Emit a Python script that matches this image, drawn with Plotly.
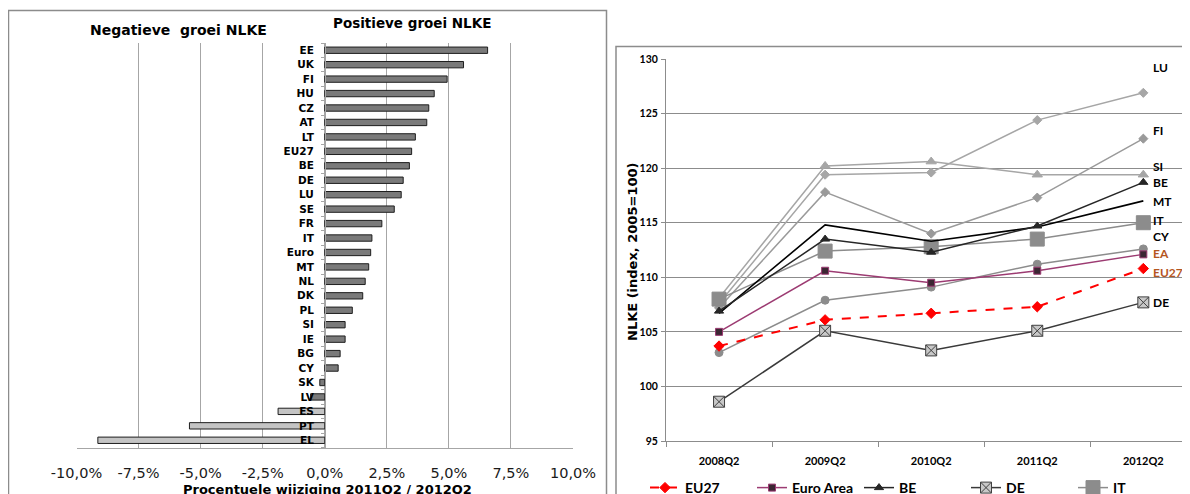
import plotly.graph_objects as go

# ---------------- data: left panel ----------------
countries = ["EE", "UK", "FI", "HU", "CZ", "AT", "LT", "EU27", "BE", "DE", "LU", "SE", "FR", "IT",
             "Euro", "MT", "NL", "DK", "PL", "SI", "IE", "BG", "CY", "SK", "LV", "ES", "PT", "EL"]
growth = [6.56, 5.59, 4.93, 4.41, 4.19, 4.11, 3.65, 3.50, 3.41, 3.16, 3.08, 2.80, 2.30, 1.90,
          1.85, 1.77, 1.63, 1.53, 1.11, 0.82, 0.82, 0.62, 0.54, -0.20, -0.57, -1.88, -5.45, -9.14]
light_bars = ["ES", "PT", "EL"]
x_ticks = [-10, -7.5, -5, -2.5, 0, 2.5, 5, 7.5, 10]
x_tick_labels = [f"{v:.1f}%".replace(".", ",") for v in x_ticks]

# ---------------- data: right panel ----------------
quarters = ["2008Q2", "2009Q2", "2010Q2", "2011Q2", "2012Q2"]
eu27 = [103.7, 106.1, 106.7, 107.3, 110.8]
euro_area = [105.0, 110.6, 109.5, 110.6, 112.1]
be = [106.9, 113.5, 112.3, 114.7, 118.7]
de = [98.6, 105.1, 103.3, 105.1, 107.7]
it = [108.0, 112.4, 112.8, 113.5, 115.0]
lu = [107.6, 119.4, 119.6, 124.4, 126.9]
fi = [107.2, 117.8, 114.0, 117.3, 122.7]
si = [108.1, 120.2, 120.6, 119.4, 119.4]
mt = [106.7, 114.8, 113.3, 114.6, 117.0]
cy = [103.1, 107.9, 109.1, 111.2, 112.6]

# The page body has an 8px margin: build the figure so that it fits the window exactly.
OFF = 8
W, H = 1190 - OFF, 494 - OFF
px = lambda v: (v - OFF) / W          # page x (pixels) -> paper fraction
py = lambda v: 1 - (v - OFF) / H      # page y (pixels) -> paper fraction

fig = go.Figure()

# ---------- left bar chart ----------
bar_colors = ["#c4c4c4" if c in light_bars else "#7a7a7a" for c in countries]
fig.add_trace(go.Bar(
    x=growth, y=countries, orientation="h",
    marker=dict(color=bar_colors, line=dict(color="#1e1e1e", width=1)),
    xaxis="x", yaxis="y", showlegend=False, hoverinfo="x+y"))

# ---------- right line chart ----------
BOLD = "Lato"
WIDE = "DejaVu Sans"
def line(name, vals, color, symbol=None, msize=7, mcolor=None, mline=None, dash="solid",
         width=1.5, legend=False, rank=1000):
    mode = "lines+markers" if symbol else "lines"
    fig.add_trace(go.Scatter(
        x=quarters, y=vals, name=name, mode=mode,
        line=dict(color=color, width=width, dash=dash),
        marker=dict(symbol=symbol or "circle", size=msize, color=mcolor or color,
                    line=dict(color=mline or (mcolor or color), width=1)),
        xaxis="x2", yaxis="y2", showlegend=legend, legendrank=rank))

line("LU", lu, "#a6a6a6", "diamond", 7)
line("SI", si, "#a6a6a6", "triangle-up", 9)
line("FI", fi, "#9a9a9a", "diamond", 7)
line("CY", cy, "#8c8c8c", "circle", 8)
line("IT", it, "#8c8c8c", "square", 14, legend=True, rank=5)
line("MT", mt, "#000000", None, width=1.6)
line("BE", be, "#262626", "triangle-up", 8, legend=True, rank=3)
line("Euro Area", euro_area, "#9c3b72", "square", 7, mcolor="#3b2633", mline="#9c3b72",
     legend=True, rank=2)
line("DE", de, "#3a3a3a", "square-x", 11, mcolor="#c8c8c8", mline="#404040",
     legend=True, rank=4)
line("EU27", eu27, "#ff0000", "diamond", 8, dash="dash", width=2, legend=True, rank=1)

# end labels on the right
end_labels = [("LU", lu, 25, "#000000"), ("FI", fi, 8, "#000000"), ("SI", si, 8, "#000000"),
              ("BE", be, 0, "#000000"), ("MT", mt, -1, "#000000"), ("IT", it, 2, "#000000"),
              ("CY", cy, 12, "#000000"), ("EA", euro_area, 1, "#b5561f"),
              ("EU27", eu27, -4, "#b5561f"), ("DE", de, 0, "#000000")]
annotations = []
for name, vals, ys, col in end_labels:
    annotations.append(dict(x=quarters[-1], y=vals[-1], xref="x2", yref="y2", text=name,
                            showarrow=False, xanchor="left", yanchor="middle",
                            xshift=8, yshift=ys,
                            font=dict(family=BOLD, size=12, color=col, weight="bold")))

# panel titles / axis titles
annotations += [
    dict(x=px(178), y=py(30), xref="paper", yref="paper", text="Negatieve\u00a0 groei NLKE",
         showarrow=False, xanchor="center", yanchor="middle",
         font=dict(family=WIDE, size=14, color="#000", weight="bold")),
    dict(x=px(412), y=py(23), xref="paper", yref="paper", text="Positieve groei NLKE",
         showarrow=False, xanchor="center", yanchor="middle",
         font=dict(family=WIDE, size=13.5, color="#000", weight="bold")),
    dict(x=px(327), y=py(489), xref="paper", yref="paper",
         text="Procentuele wijziging 2011Q2 / 2012Q2", showarrow=False,
         xanchor="center", yanchor="middle",
         font=dict(family=WIDE, size=13, color="#000", weight="bold")),
    dict(x=px(632), y=py(252), xref="paper", yref="paper", text="NLKE (index, 2005=100)",
         textangle=-90, showarrow=False, xanchor="center", yanchor="middle",
         font=dict(family=WIDE, size=13, color="#000", weight="bold")),
]

shapes = [
    dict(type="rect", xref="paper", yref="paper", x0=px(8.5), x1=px(606.5), y0=py(520), y1=py(10.5),
         line=dict(color="#8c8c8c", width=1.5), fillcolor="rgba(0,0,0,0)", layer="below"),
    dict(type="rect", xref="paper", yref="paper", x0=px(616), x1=px(1220), y0=py(520), y1=py(46.5),
         line=dict(color="#8c8c8c", width=1.5), fillcolor="rgba(0,0,0,0)", layer="below"),
]

fig.update_layout(
    width=W, height=H, margin=dict(l=0, r=0, t=0, b=0, autoexpand=False),
    paper_bgcolor="white", plot_bgcolor="rgba(0,0,0,0)",
    separators=",.",
    bargap=0.56,
    font=dict(family=WIDE, color="#000"),
    xaxis=dict(domain=[px(76.5), px(573)], range=[-10, 10], tickmode="array",
               tickvals=x_ticks, ticktext=x_tick_labels,
               showgrid=True, gridcolor="#a6a6a6",
               gridwidth=1, zeroline=False, showline=True, linecolor="#a6a6a6", linewidth=1,
               ticks="", ticklabelstandoff=12, automargin=False,
               tickfont=dict(family=WIDE, size=14.5, color="#1a1a1a"),
               anchor="y", fixedrange=True),
    yaxis=dict(domain=[py(447.5), py(43)], categoryorder="array", categoryarray=countries,
               tickmode="array", tickvals=countries,
               autorange="reversed", anchor="free", position=px(325),
               showline=True, linecolor="#a6a6a6", linewidth=1, showgrid=False,
               ticks="outside", tickson="boundaries", ticklen=4, tickcolor="#a6a6a6",
               ticklabelstandoff=9, automargin=False,
               tickfont=dict(family=WIDE, size=10.5, color="#000", weight="bold"),
               fixedrange=True),
    xaxis2=dict(domain=[px(666), 1], range=[-0.5, 4.44], anchor="y2", type="category",
                showline=True, linecolor="#8c8c8c", linewidth=1, showgrid=False,
                ticks="outside", tickson="boundaries", ticklen=5, tickcolor="#8c8c8c",
                ticklabelstandoff=10, automargin=False,
                tickfont=dict(family=BOLD, size=11, color="#000", weight="bold"),
                fixedrange=True),
    yaxis2=dict(domain=[py(441), py(59)], range=[95, 130], dtick=5, anchor="x2",
                showline=True, linecolor="#8c8c8c", linewidth=1, showgrid=True,
                gridcolor="#8c8c8c", gridwidth=1, zeroline=False, automargin=False,
                ticks="outside", ticklen=4, tickcolor="#8c8c8c", ticklabelstandoff=1,
                tickfont=dict(family="Liberation Sans Narrow, Lato", size=10.5, color="#000",
                              weight="bold"),
                fixedrange=True),
    legend=dict(orientation="h", x=px(645), y=py(472), xanchor="left", yanchor="top",
                entrywidth=62, entrywidthmode="pixels", bgcolor="rgba(0,0,0,0)",
                font=dict(family=BOLD, size=14, color="#000", weight="bold"),
                itemclick=False, itemdoubleclick=False, tracegroupgap=0),
    annotations=annotations, shapes=shapes,
)

fig.write_html("out.html")
